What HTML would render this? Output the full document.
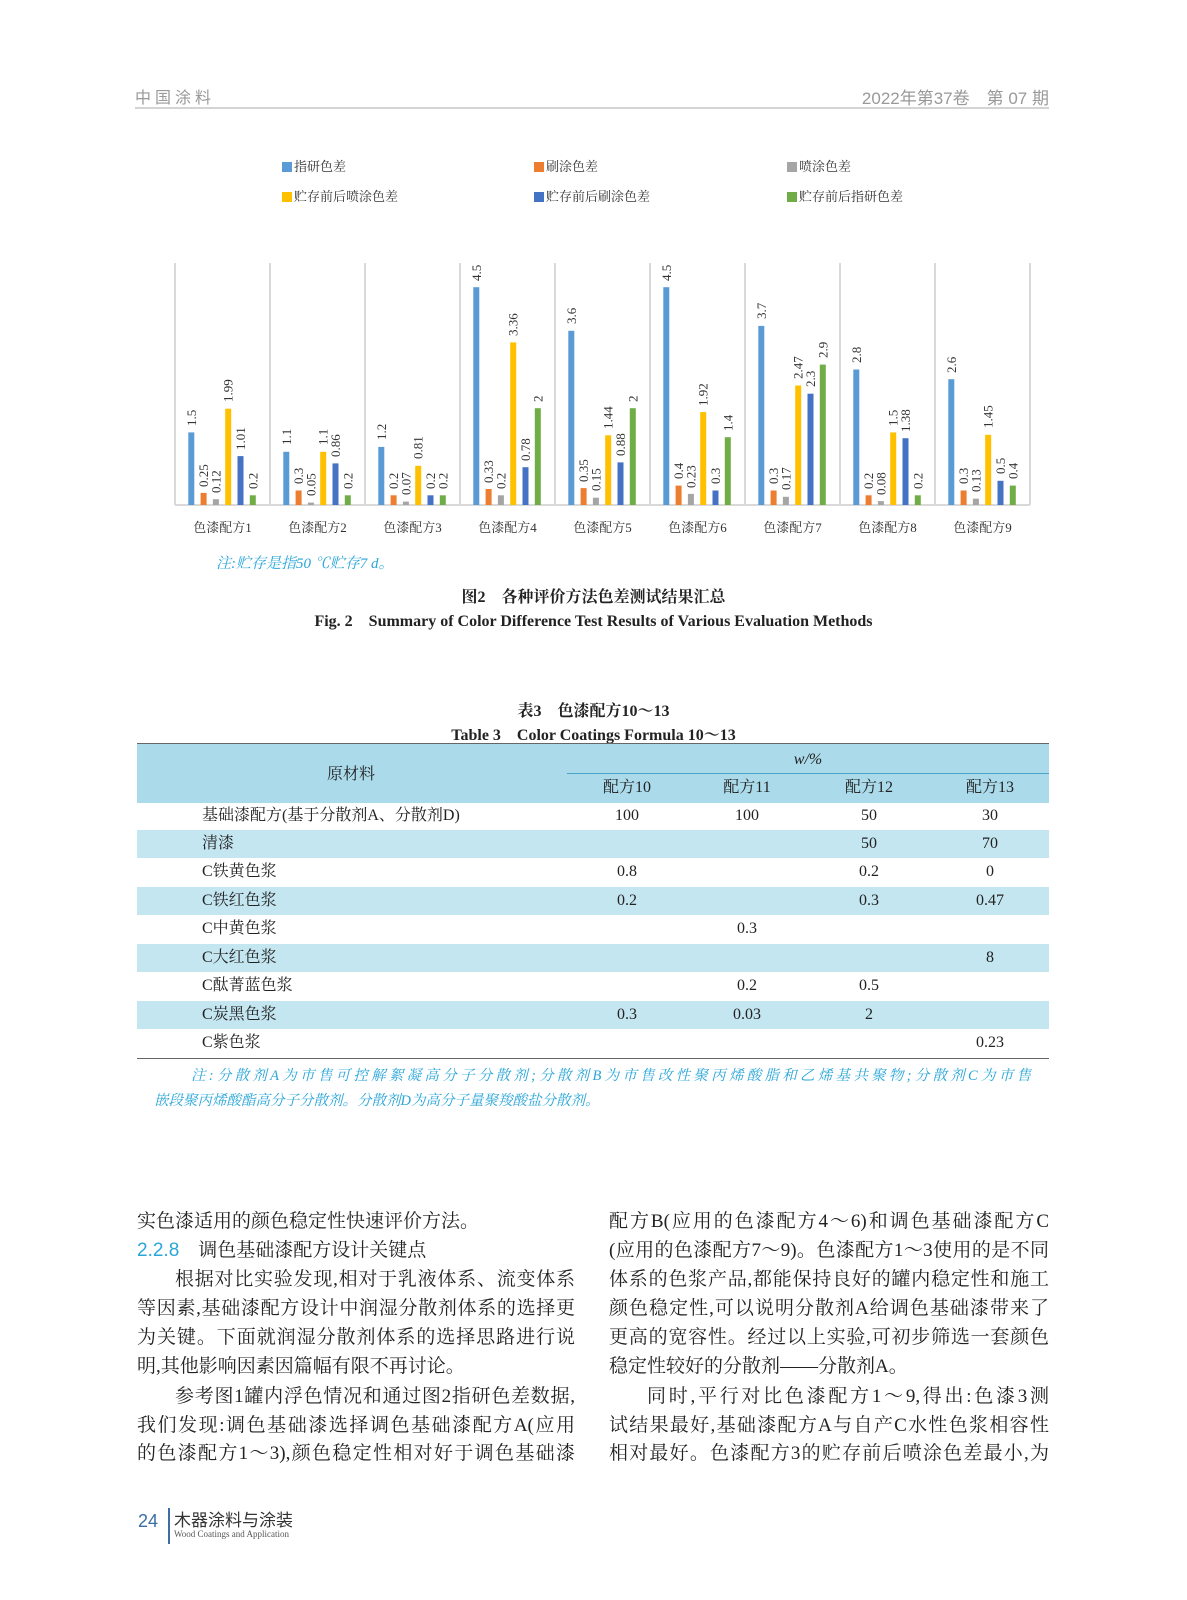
<!DOCTYPE html>
<html><head><meta charset="utf-8">
<style>
html,body{margin:0;padding:0;background:#fff;}
body{width:1187px;height:1600px;position:relative;overflow:hidden;font-family:"Liberation Serif","Noto Serif CJK SC",serif;color:#222;}
.a{position:absolute;white-space:nowrap;}
.ln{position:absolute;width:438px;font-size:19px;line-height:20px;text-align:justify;text-align-last:justify;white-space:nowrap;}
.ln.e{text-align-last:left;}
.row{position:absolute;left:137px;width:912px;height:28px;}
.cell{position:absolute;font-size:16px;line-height:28px;transform:translateX(-50%);}
</style></head><body>
<div class="a" style="left:135px;top:84px;font-size:16px;color:#999;letter-spacing:4px;font-family:'Noto Sans CJK SC',sans-serif;">中国涂料</div>
<div class="a" style="right:138px;top:84px;font-size:17px;color:#999;font-family:'Liberation Sans','Noto Sans CJK SC',sans-serif;">2022年第37卷　第 07 期</div>
<div class="a" style="left:135px;top:107px;width:914px;height:2px;background:#d4d4d4;"></div>

<svg class="a" style="left:0;top:0" width="1187" height="560" font-family="Liberation Serif, Noto Serif CJK SC, serif">
<g font-size="13" fill="#333">
<rect x="282" y="162" width="10" height="10" fill="#5b9bd5"/><text x="294" y="171">指研色差</text>
<rect x="534" y="162" width="10" height="10" fill="#ed7d31"/><text x="546" y="171">刷涂色差</text>
<rect x="787" y="162" width="10" height="10" fill="#a5a5a5"/><text x="799" y="171">喷涂色差</text>
<rect x="282" y="192" width="10" height="10" fill="#ffc000"/><text x="294" y="201">贮存前后喷涂色差</text>
<rect x="534" y="192" width="10" height="10" fill="#4472c4"/><text x="546" y="201">贮存前后刷涂色差</text>
<rect x="787" y="192" width="10" height="10" fill="#70ad47"/><text x="799" y="201">贮存前后指研色差</text>
</g>
<g stroke="#d9d9d9" stroke-width="2">
<line x1="175" y1="263" x2="175" y2="505"/><line x1="270" y1="263" x2="270" y2="505"/><line x1="365" y1="263" x2="365" y2="505"/><line x1="460" y1="263" x2="460" y2="505"/><line x1="555" y1="263" x2="555" y2="505"/><line x1="650" y1="263" x2="650" y2="505"/><line x1="745" y1="263" x2="745" y2="505"/><line x1="840" y1="263" x2="840" y2="505"/><line x1="935" y1="263" x2="935" y2="505"/><line x1="1030" y1="263" x2="1030" y2="505"/>
<line x1="175" y1="505" x2="1030" y2="505"/>
</g>
<g font-size="13" fill="#333" dominant-baseline="central">
<g transform="translate(0,0)">
<rect x="188.3" y="432.4" width="6" height="72.6" fill="#5b9bd5"/><text x="191.3" y="426" transform="rotate(-90 191.3 426)">1.5</text>
<rect x="200.6" y="492.9" width="6" height="12.1" fill="#ed7d31"/><text x="203.6" y="487" transform="rotate(-90 203.6 487)">0.25</text>
<rect x="212.9" y="499.2" width="6" height="5.8" fill="#a5a5a5"/><text x="215.9" y="493" transform="rotate(-90 215.9 493)">0.12</text>
<rect x="225.2" y="408.7" width="6" height="96.3" fill="#ffc000"/><text x="228.2" y="402" transform="rotate(-90 228.2 402)">1.99</text>
<rect x="237.5" y="456.1" width="6" height="48.9" fill="#4472c4"/><text x="240.5" y="450" transform="rotate(-90 240.5 450)">1.01</text>
<rect x="249.8" y="495.3" width="6" height="9.7" fill="#70ad47"/><text x="252.8" y="489" transform="rotate(-90 252.8 489)">0.2</text>
</g>
<g transform="translate(95,0)">
<rect x="188.3" y="451.8" width="6" height="53.2" fill="#5b9bd5"/><text x="191.3" y="445" transform="rotate(-90 191.3 445)">1.1</text>
<rect x="200.6" y="490.5" width="6" height="14.5" fill="#ed7d31"/><text x="203.6" y="484" transform="rotate(-90 203.6 484)">0.3</text>
<rect x="212.9" y="502.6" width="6" height="2.4" fill="#a5a5a5"/><text x="215.9" y="496" transform="rotate(-90 215.9 496)">0.05</text>
<rect x="225.2" y="451.8" width="6" height="53.2" fill="#ffc000"/><text x="228.2" y="445" transform="rotate(-90 228.2 445)">1.1</text>
<rect x="237.5" y="463.4" width="6" height="41.6" fill="#4472c4"/><text x="240.5" y="457" transform="rotate(-90 240.5 457)">0.86</text>
<rect x="249.8" y="495.3" width="6" height="9.7" fill="#70ad47"/><text x="252.8" y="489" transform="rotate(-90 252.8 489)">0.2</text>
</g>
<g transform="translate(190,0)">
<rect x="188.3" y="446.9" width="6" height="58.1" fill="#5b9bd5"/><text x="191.3" y="440" transform="rotate(-90 191.3 440)">1.2</text>
<rect x="200.6" y="495.3" width="6" height="9.7" fill="#ed7d31"/><text x="203.6" y="489" transform="rotate(-90 203.6 489)">0.2</text>
<rect x="212.9" y="501.6" width="6" height="3.4" fill="#a5a5a5"/><text x="215.9" y="495" transform="rotate(-90 215.9 495)">0.07</text>
<rect x="225.2" y="465.8" width="6" height="39.2" fill="#ffc000"/><text x="228.2" y="459" transform="rotate(-90 228.2 459)">0.81</text>
<rect x="237.5" y="495.3" width="6" height="9.7" fill="#4472c4"/><text x="240.5" y="489" transform="rotate(-90 240.5 489)">0.2</text>
<rect x="249.8" y="495.3" width="6" height="9.7" fill="#70ad47"/><text x="252.8" y="489" transform="rotate(-90 252.8 489)">0.2</text>
</g>
<g transform="translate(285,0)">
<rect x="188.3" y="287.2" width="6" height="217.8" fill="#5b9bd5"/><text x="191.3" y="281" transform="rotate(-90 191.3 281)">4.5</text>
<rect x="200.6" y="489" width="6" height="16" fill="#ed7d31"/><text x="203.6" y="483" transform="rotate(-90 203.6 483)">0.33</text>
<rect x="212.9" y="495.3" width="6" height="9.7" fill="#a5a5a5"/><text x="215.9" y="489" transform="rotate(-90 215.9 489)">0.2</text>
<rect x="225.2" y="342.4" width="6" height="162.6" fill="#ffc000"/><text x="228.2" y="336" transform="rotate(-90 228.2 336)">3.36</text>
<rect x="237.5" y="467.2" width="6" height="37.8" fill="#4472c4"/><text x="240.5" y="461" transform="rotate(-90 240.5 461)">0.78</text>
<rect x="249.8" y="408.2" width="6" height="96.8" fill="#70ad47"/><text x="252.8" y="402" transform="rotate(-90 252.8 402)">2</text>
</g>
<g transform="translate(380,0)">
<rect x="188.3" y="330.8" width="6" height="174.2" fill="#5b9bd5"/><text x="191.3" y="324" transform="rotate(-90 191.3 324)">3.6</text>
<rect x="200.6" y="488.1" width="6" height="16.9" fill="#ed7d31"/><text x="203.6" y="482" transform="rotate(-90 203.6 482)">0.35</text>
<rect x="212.9" y="497.7" width="6" height="7.3" fill="#a5a5a5"/><text x="215.9" y="491" transform="rotate(-90 215.9 491)">0.15</text>
<rect x="225.2" y="435.3" width="6" height="69.7" fill="#ffc000"/><text x="228.2" y="429" transform="rotate(-90 228.2 429)">1.44</text>
<rect x="237.5" y="462.4" width="6" height="42.6" fill="#4472c4"/><text x="240.5" y="456" transform="rotate(-90 240.5 456)">0.88</text>
<rect x="249.8" y="408.2" width="6" height="96.8" fill="#70ad47"/><text x="252.8" y="402" transform="rotate(-90 252.8 402)">2</text>
</g>
<g transform="translate(475,0)">
<rect x="188.3" y="287.2" width="6" height="217.8" fill="#5b9bd5"/><text x="191.3" y="281" transform="rotate(-90 191.3 281)">4.5</text>
<rect x="200.6" y="485.6" width="6" height="19.4" fill="#ed7d31"/><text x="203.6" y="479" transform="rotate(-90 203.6 479)">0.4</text>
<rect x="212.9" y="493.9" width="6" height="11.1" fill="#a5a5a5"/><text x="215.9" y="488" transform="rotate(-90 215.9 488)">0.23</text>
<rect x="225.2" y="412.1" width="6" height="92.9" fill="#ffc000"/><text x="228.2" y="406" transform="rotate(-90 228.2 406)">1.92</text>
<rect x="237.5" y="490.5" width="6" height="14.5" fill="#4472c4"/><text x="240.5" y="484" transform="rotate(-90 240.5 484)">0.3</text>
<rect x="249.8" y="437.2" width="6" height="67.8" fill="#70ad47"/><text x="252.8" y="431" transform="rotate(-90 252.8 431)">1.4</text>
</g>
<g transform="translate(570,0)">
<rect x="188.3" y="325.9" width="6" height="179.1" fill="#5b9bd5"/><text x="191.3" y="319" transform="rotate(-90 191.3 319)">3.7</text>
<rect x="200.6" y="490.5" width="6" height="14.5" fill="#ed7d31"/><text x="203.6" y="484" transform="rotate(-90 203.6 484)">0.3</text>
<rect x="212.9" y="496.8" width="6" height="8.2" fill="#a5a5a5"/><text x="215.9" y="490" transform="rotate(-90 215.9 490)">0.17</text>
<rect x="225.2" y="385.5" width="6" height="119.5" fill="#ffc000"/><text x="228.2" y="379" transform="rotate(-90 228.2 379)">2.47</text>
<rect x="237.5" y="393.7" width="6" height="111.3" fill="#4472c4"/><text x="240.5" y="387" transform="rotate(-90 240.5 387)">2.3</text>
<rect x="249.8" y="364.6" width="6" height="140.4" fill="#70ad47"/><text x="252.8" y="358" transform="rotate(-90 252.8 358)">2.9</text>
</g>
<g transform="translate(665,0)">
<rect x="188.3" y="369.5" width="6" height="135.5" fill="#5b9bd5"/><text x="191.3" y="363" transform="rotate(-90 191.3 363)">2.8</text>
<rect x="200.6" y="495.3" width="6" height="9.7" fill="#ed7d31"/><text x="203.6" y="489" transform="rotate(-90 203.6 489)">0.2</text>
<rect x="212.9" y="501.1" width="6" height="3.9" fill="#a5a5a5"/><text x="215.9" y="495" transform="rotate(-90 215.9 495)">0.08</text>
<rect x="225.2" y="432.4" width="6" height="72.6" fill="#ffc000"/><text x="228.2" y="426" transform="rotate(-90 228.2 426)">1.5</text>
<rect x="237.5" y="438.2" width="6" height="66.8" fill="#4472c4"/><text x="240.5" y="432" transform="rotate(-90 240.5 432)">1.38</text>
<rect x="249.8" y="495.3" width="6" height="9.7" fill="#70ad47"/><text x="252.8" y="489" transform="rotate(-90 252.8 489)">0.2</text>
</g>
<g transform="translate(760,0)">
<rect x="188.3" y="379.2" width="6" height="125.8" fill="#5b9bd5"/><text x="191.3" y="373" transform="rotate(-90 191.3 373)">2.6</text>
<rect x="200.6" y="490.5" width="6" height="14.5" fill="#ed7d31"/><text x="203.6" y="484" transform="rotate(-90 203.6 484)">0.3</text>
<rect x="212.9" y="498.7" width="6" height="6.3" fill="#a5a5a5"/><text x="215.9" y="492" transform="rotate(-90 215.9 492)">0.13</text>
<rect x="225.2" y="434.8" width="6" height="70.2" fill="#ffc000"/><text x="228.2" y="428" transform="rotate(-90 228.2 428)">1.45</text>
<rect x="237.5" y="480.8" width="6" height="24.2" fill="#4472c4"/><text x="240.5" y="474" transform="rotate(-90 240.5 474)">0.5</text>
<rect x="249.8" y="485.6" width="6" height="19.4" fill="#70ad47"/><text x="252.8" y="479" transform="rotate(-90 252.8 479)">0.4</text>
</g>
</g>
<g font-size="13" fill="#333" text-anchor="middle">
<text x="222.5" y="532">色漆配方1</text><text x="317.5" y="532">色漆配方2</text><text x="412.5" y="532">色漆配方3</text><text x="507.5" y="532">色漆配方4</text><text x="602.5" y="532">色漆配方5</text><text x="697.5" y="532">色漆配方6</text><text x="792.5" y="532">色漆配方7</text><text x="887.5" y="532">色漆配方8</text><text x="982.5" y="532">色漆配方9</text>
</g>
</svg>

<div class="a" style="left:216px;top:552px;font-size:15px;color:#2aa6d8;font-style:italic;">注:贮存是指50 ℃贮存7 d。</div>
<div class="a" style="left:0;width:1187px;top:584px;text-align:center;font-size:16px;font-weight:bold;">图2　各种评价方法色差测试结果汇总</div>
<div class="a" style="left:0;width:1187px;top:608px;text-align:center;font-size:16px;font-weight:bold;">Fig. 2　Summary of Color Difference Test Results of Various Evaluation Methods</div>
<div class="a" style="left:0;width:1187px;top:698px;text-align:center;font-size:16px;font-weight:bold;">表3　色漆配方10～13</div>
<div class="a" style="left:0;width:1187px;top:722px;text-align:center;font-size:16px;font-weight:bold;">Table 3　Color Coatings Formula 10～13</div>

<div class="a" style="left:137px;top:743px;width:912px;height:59px;background:#abdbeb;border-top:1px solid #666;"></div>
<div class="a" style="left:567px;top:773px;width:482px;height:1px;background:#4aa3c8;"></div>
<div class="cell a" style="left:351px;top:761px;">原材料</div>
<div class="cell a" style="left:808px;top:746px;font-style:italic;">w/%</div>
<div class="cell a" style="left:627px;top:774px;">配方10</div>
<div class="cell a" style="left:747px;top:774px;">配方11</div>
<div class="cell a" style="left:869px;top:774px;">配方12</div>
<div class="cell a" style="left:990px;top:774px;">配方13</div>

<div class="row" style="top:802px;"></div>
<div class="row" style="top:830px;background:#c4e6f1;"></div>
<div class="row" style="top:858px;"></div>
<div class="row" style="top:887px;background:#c4e6f1;"></div>
<div class="row" style="top:915px;"></div>
<div class="row" style="top:944px;background:#c4e6f1;"></div>
<div class="row" style="top:972px;"></div>
<div class="row" style="top:1001px;background:#c4e6f1;"></div>
<div class="row" style="top:1029px;"></div>
<div class="a" style="left:137px;top:1058px;width:912px;height:1px;background:#666;"></div>

<div class="a" style="left:202px;top:802px;font-size:16px;line-height:28px;">基础漆配方(基于分散剂A、分散剂D)</div>
<div class="cell a" style="left:627px;top:802px;">100</div><div class="cell a" style="left:747px;top:802px;">100</div><div class="cell a" style="left:869px;top:802px;">50</div><div class="cell a" style="left:990px;top:802px;">30</div>
<div class="a" style="left:202px;top:830px;font-size:16px;line-height:28px;">清漆</div>
<div class="cell a" style="left:869px;top:830px;">50</div><div class="cell a" style="left:990px;top:830px;">70</div>
<div class="a" style="left:202px;top:858px;font-size:16px;line-height:28px;">C铁黄色浆</div>
<div class="cell a" style="left:627px;top:858px;">0.8</div><div class="cell a" style="left:869px;top:858px;">0.2</div><div class="cell a" style="left:990px;top:858px;">0</div>
<div class="a" style="left:202px;top:887px;font-size:16px;line-height:28px;">C铁红色浆</div>
<div class="cell a" style="left:627px;top:887px;">0.2</div><div class="cell a" style="left:869px;top:887px;">0.3</div><div class="cell a" style="left:990px;top:887px;">0.47</div>
<div class="a" style="left:202px;top:915px;font-size:16px;line-height:28px;">C中黄色浆</div>
<div class="cell a" style="left:747px;top:915px;">0.3</div>
<div class="a" style="left:202px;top:944px;font-size:16px;line-height:28px;">C大红色浆</div>
<div class="cell a" style="left:990px;top:944px;">8</div>
<div class="a" style="left:202px;top:972px;font-size:16px;line-height:28px;">C酞菁蓝色浆</div>
<div class="cell a" style="left:747px;top:972px;">0.2</div><div class="cell a" style="left:869px;top:972px;">0.5</div>
<div class="a" style="left:202px;top:1001px;font-size:16px;line-height:28px;">C炭黑色浆</div>
<div class="cell a" style="left:627px;top:1001px;">0.3</div><div class="cell a" style="left:747px;top:1001px;">0.03</div><div class="cell a" style="left:869px;top:1001px;">2</div>
<div class="a" style="left:202px;top:1029px;font-size:16px;line-height:28px;">C紫色浆</div>
<div class="cell a" style="left:990px;top:1029px;">0.23</div>

<div class="a" style="left:191px;top:1064px;width:840px;font-size:14.5px;color:#2aa6d8;font-style:italic;text-align-last:justify;text-align:justify;">注:分散剂A为市售可控解絮凝高分子分散剂;分散剂B为市售改性聚丙烯酸脂和乙烯基共聚物;分散剂C为市售</div>
<div class="a" style="left:154px;top:1089px;font-size:14.5px;color:#2aa6d8;font-style:italic;">嵌段聚丙烯酸酯高分子分散剂。分散剂D为高分子量聚羧酸盐分散剂。</div>

<div class="ln e" style="left:137px;top:1212px;">实色漆适用的颜色稳定性快速评价方法。</div>
<div class="ln e" style="left:137px;top:1241px;"><span style="color:#2aa6d8;font-family:'Liberation Sans',sans-serif;">2.2.8</span>　调色基础漆配方设计关键点</div>
<div class="ln" style="left:175px;width:400px;top:1270px;">根据对比实验发现,相对于乳液体系、流变体系</div>
<div class="ln" style="left:137px;top:1299px;">等因素,基础漆配方设计中润湿分散剂体系的选择更</div>
<div class="ln" style="left:137px;top:1328px;">为关键。下面就润湿分散剂体系的选择思路进行说</div>
<div class="ln e" style="left:137px;top:1357px;">明,其他影响因素因篇幅有限不再讨论。</div>
<div class="ln" style="left:175px;width:400px;top:1387px;">参考图1罐内浮色情况和通过图2指研色差数据,</div>
<div class="ln" style="left:137px;top:1416px;">我们发现:调色基础漆选择调色基础漆配方A(应用</div>
<div class="ln" style="left:137px;top:1444px;">的色漆配方1～3),颜色稳定性相对好于调色基础漆</div>

<div class="ln" style="left:609px;width:440px;top:1212px;">配方B(应用的色漆配方4～6)和调色基础漆配方C</div>
<div class="ln" style="left:609px;width:440px;top:1241px;">(应用的色漆配方7～9)。色漆配方1～3使用的是不同</div>
<div class="ln" style="left:609px;width:440px;top:1270px;">体系的色浆产品,都能保持良好的罐内稳定性和施工</div>
<div class="ln" style="left:609px;width:440px;top:1299px;">颜色稳定性,可以说明分散剂A给调色基础漆带来了</div>
<div class="ln" style="left:609px;width:440px;top:1328px;">更高的宽容性。经过以上实验,可初步筛选一套颜色</div>
<div class="ln e" style="left:609px;width:440px;top:1357px;">稳定性较好的分散剂——分散剂A。</div>
<div class="ln" style="left:647px;width:402px;top:1387px;">同时,平行对比色漆配方1～9,得出:色漆3测</div>
<div class="ln" style="left:609px;width:440px;top:1416px;">试结果最好,基础漆配方A与自产C水性色浆相容性</div>
<div class="ln" style="left:609px;width:440px;top:1444px;">相对最好。色漆配方3的贮存前后喷涂色差最小,为</div>

<div class="a" style="left:138px;top:1511px;font-size:18px;color:#3a6ea5;font-family:'Liberation Sans',sans-serif;">24</div>
<div class="a" style="left:168px;top:1508px;width:2px;height:36px;background:#3a6ea5;"></div>
<div class="a" style="left:174px;top:1506px;font-size:17px;color:#333;font-family:'Noto Sans CJK SC',sans-serif;">木器涂料与涂装</div>
<div class="a" style="left:174px;top:1529px;font-size:9px;color:#555;">Wood Coatings and Application</div>
</body></html>
